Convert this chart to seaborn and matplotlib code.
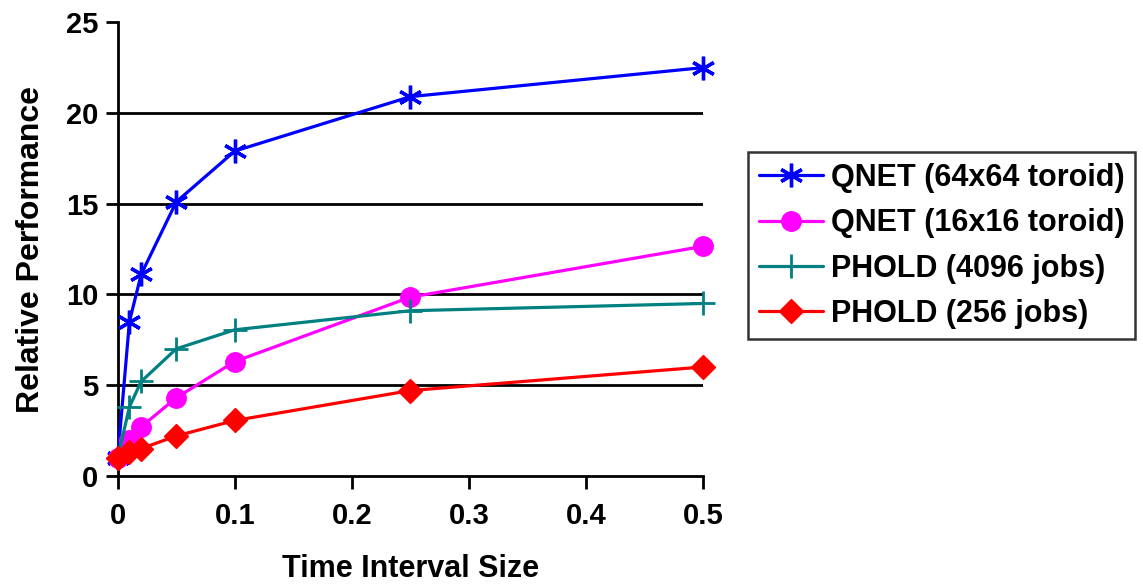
import matplotlib
matplotlib.use("Agg")
import matplotlib.pyplot as plt
import seaborn as sns
import pandas as pd

x_vals = [0, 0.01, 0.02, 0.05, 0.1, 0.25, 0.5]
qnet64 = [1.0, 8.5, 11.1, 15.1, 17.9, 20.9, 22.5]
qnet16 = [1.0, 2.0, 2.7, 4.3, 6.3, 9.85, 12.65]
phold4096 = [1.0, 3.8, 5.2, 7.0, 8.05, 9.1, 9.5]
phold256 = [1.0, 1.3, 1.5, 2.2, 3.05, 4.7, 6.0]
labels = ["QNET (64x64 toroid)", "QNET (16x16 toroid)", "PHOLD (4096 jobs)", "PHOLD (256 jobs)"]
x_ticks = [0, 0.1, 0.2, 0.3, 0.4, 0.5]
x_tick_labels = ["0", "0.1", "0.2", "0.3", "0.4", "0.5"]
y_ticks = [0, 5, 10, 15, 20, 25]

sns.set_theme(style="white")
plt.rcParams['font.family'] = ['Liberation Sans', 'DejaVu Sans']
plt.rcParams['font.weight'] = 'bold'
plt.rcParams['text.color'] = 'black'
plt.rcParams['axes.labelcolor'] = 'black'

fig = plt.figure(figsize=(11.43, 5.86), dpi=100)
ax = fig.add_axes([0.103, 0.188, 0.512, 0.774])

series = [qnet64, qnet16, phold4096, phold256]
colors = ["#0000FF", "#FF00FF", "#008080", "#FF0000"]
markers = [(6, 2, 0), "o", "+", "D"]
msizes = [17, 14, 17, 12]
mews = [2.4, 1, 2.0, 1]

for ys, lab, c, m, ms, mew in zip(series, labels, colors, markers, msizes, mews):
    df = pd.DataFrame({"x": x_vals, "y": ys})
    sns.lineplot(data=df, x="x", y="y", ax=ax, color=c, marker=m, markersize=ms,
                 markeredgewidth=mew, markeredgecolor=c, markerfacecolor=c,
                 linewidth=2.3, label=lab, clip_on=False, zorder=3)

ax.set_xlim(0, 0.5)
ax.set_ylim(0, 25)
ax.set_xticks(x_ticks)
ax.set_xticklabels(x_tick_labels)
ax.set_yticks(y_ticks)
for yv in [5, 10, 15, 20]:
    ax.axhline(yv, color="black", linewidth=2, zorder=1)

for s in ["top", "right"]:
    ax.spines[s].set_visible(False)
for s in ["left", "bottom"]:
    ax.spines[s].set_color("black")
    ax.spines[s].set_linewidth(2)

ax.tick_params(axis="both", which="major", direction="out", length=9, width=2,
               colors="black", labelsize=21)
ax.tick_params(axis="x", pad=10)
ax.tick_params(axis="y", pad=5)
ax.tick_params(left=True, bottom=True)
for t in ax.get_xticklabels() + ax.get_yticklabels():
    t.set_fontweight("bold")

ax.set_xlabel("Time Interval Size", fontsize=22, fontweight="bold", labelpad=17, color="black")
ax.set_ylabel("Relative Performance", fontsize=23, fontweight="bold", labelpad=14, color="black")

leg = ax.legend(loc="center left", bbox_to_anchor=(1.077, 0.507), frameon=True,
                fancybox=False, edgecolor="black", fontsize=22, handlelength=2.1,
                borderpad=0.35, labelspacing=0.5, handletextpad=0.25, borderaxespad=0)
leg.get_frame().set_linewidth(1.8)
for t in leg.get_texts():
    t.set_fontweight("bold")
    t.set_color("black")

fig.savefig("out.png", dpi=100, facecolor="white")
